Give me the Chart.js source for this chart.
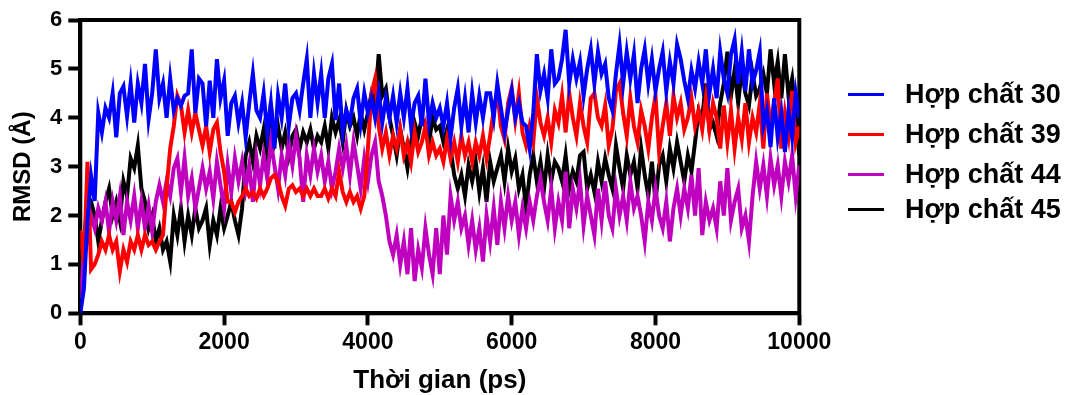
<!DOCTYPE html>
<html>
<head>
<meta charset="utf-8">
<script src="https://cdn.jsdelivr.net/npm/chart.js@4.4.1/dist/chart.umd.min.js"></script>
<style>
  html, body { margin: 0; padding: 0; background: #fff; }
  #wrap { position: relative; width: 1067px; height: 395px; overflow: hidden; background: #fff; }
  #c { position: absolute; left: 0; top: 0; }
  .lg-line { position: absolute; left: 848px; width: 36px; height: 3px; }
  .lg-text { position: absolute; left: 905px; height: 27px; line-height: 27px; white-space: nowrap;
             font-family: "Liberation Sans", Arial, sans-serif; font-weight: bold; font-size: 27px; color: #000; }
</style>
</head>
<body>
<div id="wrap">
  <canvas id="c" width="1067" height="395"></canvas>
</div>
<script>
// ---- data (RMSD in Å, sampled every 50 ps from 0 to 10000 ps) ----
const timeStepPs = 50;
const seriesNames = ["Hợp chất 30", "Hợp chất 39", "Hợp chất 44", "Hợp chất 45"];
const seriesColors = ["#0000FF", "#FF0000", "#BF00BF", "#000000"];
const xTickValues = [0, 2000, 4000, 6000, 8000, 10000];
const yTickValues = [0, 1, 2, 3, 4, 5, 6];

const rmsd30 = [
  0.0,0.5,1.9,2.8,2.3,4.1,3.7,4.2,4.0,4.5, 3.6,4.5,4.64,4.03,4.7,3.9,4.7,4.3,5.1,3.97,
  4.5,5.4,4.4,4.7,4.0,4.8,4.15,4.4,4.25,4.45, 4.5,5.4,4.1,4.8,4.7,3.83,4.76,4.0,5.2,4.4,
  4.76,3.63,4.3,4.45,3.9,4.3,3.6,4.3,4.9,4.15, 4.0,4.5,3.7,4.3,3.37,4.45,4.0,4.7,3.83,4.4,
  4.5,4.15,4.7,5.2,4.0,4.9,4.3,4.9,4.0,4.8, 5.1,3.95,4.7,3.7,4.15,3.9,4.4,4.6,3.9,4.5,
  4.1,4.4,4.0,4.5,3.9,4.4,4.0,4.45,3.9,4.5, 4.0,4.6,3.83,4.3,4.45,3.83,4.8,3.9,4.3,4.0,
  4.2,3.83,4.3,3.6,4.2,4.6,3.83,4.4,3.7,4.5, 3.9,4.45,4.0,4.5,4.5,4.0,4.7,4.2,3.7,4.15,
  4.55,4.0,4.3,3.9,3.83,3.37,4.1,5.3,4.55,4.9, 4.4,5.4,4.7,4.8,5.2,5.8,4.7,5.2,4.8,5.15,
  4.45,5.0,5.4,4.7,5.35,4.9,5.1,4.4,4.15,4.9, 5.5,4.7,5.35,4.8,5.3,4.3,5.0,5.4,4.7,5.2,
  4.55,5.0,5.35,4.55,5.15,4.7,5.5,5.2,4.76,4.4, 4.97,4.6,5.15,4.7,5.4,4.5,5.0,4.4,5.35,4.8,
  4.5,5.3,5.6,4.7,5.35,4.55,5.4,4.7,4.97,5.35, 3.83,4.15,3.4,4.4,3.6,4.1,3.3,4.15,3.6,4.5,
  4.0
];
const rmsd39 = [
  1.7,1.0,3.1,0.9,1.0,1.2,1.47,1.3,1.6,1.3, 1.47,0.86,1.3,1.05,1.47,1.3,1.6,1.3,1.6,1.4,
  1.47,1.3,1.47,1.6,2.55,3.37,3.83,4.45,4.25,3.7, 4.15,3.7,4.1,3.76,3.43,3.83,3.3,3.76,3.9,3.3,
  2.9,2.28,2.28,2.07,2.28,2.4,2.55,2.4,2.48,2.35, 2.55,2.4,2.55,2.76,2.83,2.7,2.4,2.2,2.55,2.62,
  2.48,2.55,2.4,2.55,2.4,2.55,2.4,2.4,2.55,2.35, 2.55,2.4,2.9,2.48,2.28,2.48,2.28,2.4,2.14,2.4,
  3.37,4.5,4.8,3.83,3.37,3.7,3.23,3.63,3.37,3.76, 3.23,3.5,3.1,3.7,3.3,3.5,3.83,3.23,3.5,3.23,
  3.37,3.1,3.56,3.17,3.5,3.1,3.63,3.23,3.5,3.1, 3.5,3.23,3.63,3.17,3.63,4.15,4.55,3.83,3.56,4.3,
  4.6,3.95,4.5,3.7,3.43,3.83,3.5,4.4,3.9,3.63, 4.0,3.5,4.15,3.9,4.45,3.7,4.5,4.0,3.63,4.3,
  3.83,3.5,4.4,4.5,4.0,3.83,4.25,3.43,3.76,4.55, 4.7,4.1,3.63,4.4,3.83,3.5,4.15,3.83,3.37,4.0,
  4.45,3.3,3.83,4.3,3.63,4.45,4.0,4.3,3.76,4.0, 4.4,3.83,4.15,3.76,4.4,3.76,4.3,4.0,3.37,4.25,
  3.5,4.15,3.37,4.0,3.56,4.3,3.5,4.0,3.7,4.3, 3.37,4.5,3.83,4.3,4.8,3.37,4.1,3.63,4.55,3.5,
  3.83
];
const rmsd44 = [
  0.3,1.2,1.5,2.0,1.74,2.15,1.9,2.28,1.67,2.28, 1.9,2.4,1.6,2.28,1.9,2.4,1.74,2.28,1.74,2.2,
  1.67,2.28,2.62,2.28,2.7,2.4,2.97,3.17,2.48,3.17, 2.4,2.76,2.15,2.55,2.97,2.55,2.9,2.35,3.1,2.62,
  2.15,3.03,2.48,3.17,2.7,3.1,2.55,3.03,2.28,3.17, 2.62,3.23,2.76,3.5,3.03,2.55,3.23,2.83,3.5,3.03,
  3.63,3.17,2.28,3.23,2.83,3.37,2.9,3.23,2.7,3.1, 2.55,2.9,3.37,2.97,3.43,2.83,3.5,3.03,2.55,3.17,
  2.7,3.23,3.5,2.7,2.4,2.0,1.47,1.2,1.6,1.0, 1.47,0.8,1.74,0.66,1.3,0.93,1.74,1.2,0.8,1.74,
  0.8,2.0,1.2,2.4,1.9,2.28,1.74,2.0,1.4,1.9, 1.3,1.74,1.06,2.0,1.47,2.15,1.4,2.28,1.74,2.4,
  1.9,2.28,1.6,2.15,1.74,2.28,1.9,2.4,2.76,2.28, 1.9,2.55,1.74,2.28,1.9,2.9,1.74,2.55,2.15,2.7,
  1.8,2.4,2.0,1.6,2.55,1.9,2.7,2.0,1.74,2.55, 2.0,2.4,1.9,2.7,2.15,2.4,2.0,1.47,2.28,1.9,
  2.55,2.0,1.74,2.28,1.47,2.15,2.55,2.0,2.55,2.15, 2.83,2.0,2.97,1.6,2.28,1.9,2.15,1.74,2.7,2.0,
  2.97,1.9,2.28,2.55,1.74,2.0,1.47,2.4,3.1,2.55, 3.03,2.4,3.17,2.62,3.03,2.4,3.1,2.7,3.23,2.4,
  3.03
];
const rmsd45 = [
  0.2,1.5,2.2,2.28,2.0,1.47,1.9,2.28,2.55,2.0, 2.28,1.9,2.7,2.4,3.17,2.97,3.43,2.55,2.28,1.74,
  2.0,1.47,1.74,1.3,1.47,1.06,2.0,1.6,2.15,1.47, 2.0,1.6,2.15,1.74,1.9,2.15,1.4,1.9,1.6,2.15,
  1.74,2.0,2.28,1.9,1.6,2.15,3.23,3.5,3.1,3.63, 3.37,3.76,3.23,4.3,3.5,3.83,3.37,3.7,3.23,3.63,
  3.76,3.37,3.7,3.5,3.76,3.37,3.63,3.5,3.83,3.37, 4.0,3.7,3.95,3.5,4.15,3.83,4.0,3.63,4.1,3.76,
  4.1,4.5,4.3,5.3,4.45,4.6,4.0,3.63,3.23,3.76, 3.37,2.97,3.5,3.9,3.63,4.0,3.83,3.5,4.0,3.76,
  3.83,3.5,3.76,3.37,2.83,2.55,2.83,2.4,3.03,2.7, 3.1,2.48,2.97,2.28,3.1,2.7,2.97,3.23,2.7,3.37,
  2.9,3.17,2.55,2.83,2.15,2.83,3.23,2.7,3.1,2.55, 3.23,2.7,3.1,2.97,2.7,3.23,2.55,2.9,2.7,3.23,
  3.3,2.55,2.83,2.48,3.1,2.7,3.17,2.83,2.55,3.43, 2.97,2.55,3.23,2.83,3.1,2.55,3.37,2.83,2.4,3.1,
  2.28,3.03,3.23,2.7,3.37,2.97,3.5,3.1,2.7,3.23, 2.9,3.5,4.15,4.0,4.7,3.76,3.9,3.63,4.3,4.7,
  5.35,4.45,4.97,4.3,5.0,4.5,4.25,4.9,4.45,4.6, 4.9,4.5,5.4,4.7,5.15,4.4,5.3,4.45,4.8,4.0,
  3.23
];
const seriesValues = [rmsd30, rmsd39, rmsd44, rmsd45];

// ---- chart ----
const FONT = '"Liberation Sans", Arial, Helvetica, sans-serif';
const toPoints = arr => arr.map((v, i) => ({ x: i * timeStepPs, y: v }));

const frame = {
  id: 'frame',
  beforeDatasetsDraw(chart) {
    const { ctx, chartArea: a } = chart;
    ctx.save();
    ctx.strokeStyle = '#000';
    ctx.lineWidth = 4;
    ctx.lineJoin = 'miter';
    ctx.strokeRect(a.left, a.top, a.right - a.left, a.bottom - a.top);
    ctx.restore();
  }
};

new Chart(document.getElementById('c'), {
  type: 'line',
  data: {
    datasets: seriesValues.map((vals, i) => ({
      label: seriesNames[i],
      data: toPoints(vals),
      borderColor: seriesColors[i],
      backgroundColor: seriesColors[i],
      borderWidth: 4,
      borderJoinStyle: 'miter',
      pointRadius: 0,
      tension: 0,
      fill: false
    }))
  },
  options: {
    responsive: false,
    animation: false,
    devicePixelRatio: 1,
    layout: { padding: { left: 0, top: 20, right: 267.7, bottom: 0 } },
    plugins: { legend: { display: false }, tooltip: { enabled: false } },
    scales: {
      x: {
        type: 'linear', min: 0, max: 10000,
        afterBuildTicks: s => { s.ticks = xTickValues.map(v => ({ value: v })); },
        afterFit: s => { s.height = 81.7; },
        ticks: { color: '#000', padding: 4, maxRotation: 0, autoSkip: false,
                 font: { family: FONT, size: 23, weight: 'bold' }, callback: v => String(v) },
        grid: { drawOnChartArea: false, drawTicks: true, tickLength: 12, tickWidth: 4, tickColor: '#000' },
        border: { display: true, width: 4, color: '#000' },
        title: { display: true, text: 'Thời gian (ps)', color: '#000',
                 font: { family: FONT, size: 26, weight: 'bold', lineHeight: 1 }, padding: { top: 0, bottom: 1 } }
      },
      y: {
        type: 'linear', min: 0, max: 6,
        afterBuildTicks: s => { s.ticks = yTickValues.map(v => ({ value: v })); },
        afterFit: s => { s.width = 80.3; },
        ticks: { color: '#000', padding: 6,
                 font: { family: FONT, size: 22, weight: 'bold' }, callback: v => String(v) },
        grid: { drawOnChartArea: false, drawTicks: true, tickLength: 12, tickWidth: 4, tickColor: '#000' },
        border: { display: true, width: 4, color: '#000' },
        title: { display: true, text: 'RMSD (Å)', color: '#000',
                 font: { family: FONT, size: 24, weight: 'bold', lineHeight: 1.2 }, padding: { top: 9, bottom: 0 } }
      }
    }
  },
  plugins: [frame]
});

// ---- legend (HTML text) ----
const legendRowsY = [94, 134, 174, 209];
const wrap = document.getElementById('wrap');
seriesNames.forEach((name, i) => {
  const ln = document.createElement('div');
  ln.className = 'lg-line';
  ln.style.top = (legendRowsY[i] - 1.5) + 'px';
  ln.style.background = seriesColors[i];
  wrap.appendChild(ln);
  const tx = document.createElement('div');
  tx.className = 'lg-text';
  tx.style.top = (legendRowsY[i] - 13.5) + 'px';
  tx.textContent = name;
  wrap.appendChild(tx);
});
</script>
</body>
</html>
